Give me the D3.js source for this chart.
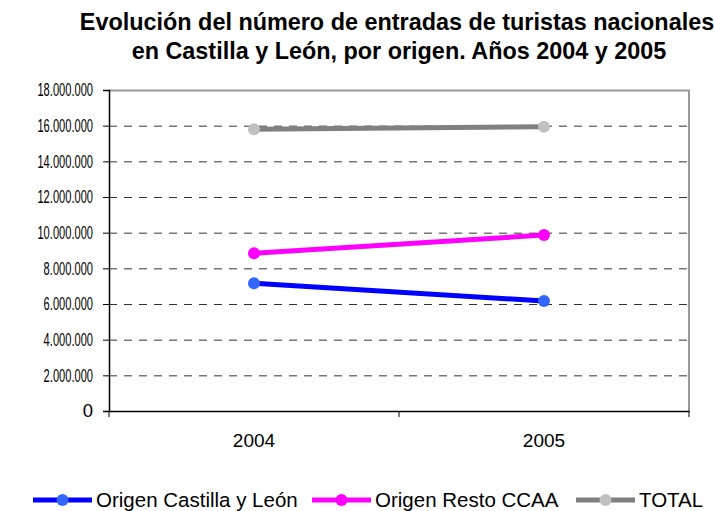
<!DOCTYPE html>
<html>
<head>
<meta charset="utf-8">
<script src="https://cdn.jsdelivr.net/npm/d3@7"></script>
<style>
  body { margin: 0; background: #fff; }
  svg { font-family: Arial, "Liberation Sans", sans-serif; }
  .grid line { stroke: #333; stroke-dasharray: 8,7; }
  .grid .domain { display: none; }
</style>
</head>
<body>
<script>
// data
var years = ["2004", "2005"];
var castillaLeon = [7160000, 6170000];
var restoCCAA = [8840000, 9870000];
var total = [15800000, 15940000];
var yTicks = [0, 2000000, 4000000, 6000000, 8000000, 10000000, 12000000, 14000000, 16000000, 18000000];

var series = [
  {name: "Origen Castilla y León", values: castillaLeon, line: "#0000ff", dot: "#3366ff"},
  {name: "Origen Resto CCAA", values: restoCCAA, line: "#ff00ff", dot: "#ff00ff"},
  {name: "TOTAL", values: total, line: "#808080", dot: "#c0c0c0"}
];

var margin = {top: 90, right: 25, bottom: 100, left: 109},
    width = 714 - margin.left - margin.right,
    height = 511 - margin.top - margin.bottom;

var svg = d3.select("body").append("svg")
    .attr("width", 714)
    .attr("height", 511);

// title
var title = svg.append("text")
    .attr("text-anchor", "middle")
    .attr("font-weight", "bold")
    .attr("font-size", "23.4px")
    .attr("fill", "#000");
title.append("tspan").attr("x", 397).attr("y", 30)
    .text("Evolución del número de entradas de turistas nacionales");
title.append("tspan").attr("x", 399).attr("y", 59)
    .text("en Castilla y León, por origen. Años 2004 y 2005");

var g = svg.append("g")
    .attr("transform", "translate(" + margin.left + "," + margin.top + ")");

// set the ranges
var x = d3.scaleBand().domain(years).range([0, width]);
var y = d3.scaleLinear().domain([0, 18000000]).range([height, 0]);

var fmt = function(d) { return d3.format(",")(d).replace(/,/g, "."); };

// gridlines
g.append("g")
    .attr("class", "grid")
    .call(d3.axisLeft(y).tickValues(yTicks.slice(1, -1)).tickSize(-width).tickFormat(""));

// plot border (top / right)
g.append("path")
    .attr("d", "M0,0.5H" + width + "V" + height)
    .attr("fill", "none")
    .attr("stroke", "#999")
    .attr("stroke-width", 2);

// y axis
var yAxis = g.append("g")
    .call(d3.axisLeft(y).tickValues(yTicks).tickSize(6).tickPadding(10).tickFormat(fmt));
yAxis.select(".domain").attr("stroke", "#000").attr("stroke-width", 1.5);
yAxis.selectAll("text")
    .attr("font-size", "18.5px")
    .attr("fill", "#000")
    .each(function() {
      // the labels in the picture are squeezed sideways
      var w = this.getComputedTextLength();
      if (w > 20) {
        d3.select(this).attr("textLength", w * 0.6).attr("lengthAdjust", "spacingAndGlyphs");
      }
    });

// x axis, ticks on the category boundaries
var xAxis = g.append("g")
    .attr("transform", "translate(0," + height + ")")
    .call(d3.axisBottom(x).tickSize(0).tickPadding(23));
xAxis.select(".domain").attr("stroke", "#000").attr("stroke-width", 1.5);
xAxis.selectAll("text").attr("font-size", "19px").attr("fill", "#000");
xAxis.selectAll(".sep")
    .data([0, 1, 2])
    .enter().append("line")
    .attr("class", "sep")
    .attr("x1", function(d) { return d * x.step(); })
    .attr("x2", function(d) { return d * x.step(); })
    .attr("y1", 0)
    .attr("y2", 6)
    .attr("stroke", "#000");

// lines and markers
var line = d3.line()
    .x(function(d, i) { return x(years[i]) + x.bandwidth() / 2; })
    .y(function(d) { return y(d); });

series.forEach(function(s) {
  g.append("path")
      .datum(s.values)
      .attr("fill", "none")
      .attr("stroke", s.line)
      .attr("stroke-width", 5)
      .attr("d", line);
  g.selectAll(null)
      .data(s.values)
      .enter().append("circle")
      .attr("cx", function(d, i) { return x(years[i]) + x.bandwidth() / 2; })
      .attr("cy", function(d) { return y(d); })
      .attr("r", 6)
      .attr("fill", s.dot);
});

// legend
var legendX = [33, 312, 576];
var legend = svg.selectAll(".legend")
    .data(series)
    .enter().append("g")
    .attr("class", "legend")
    .attr("transform", function(d, i) { return "translate(" + legendX[i] + ",500)"; });
legend.append("line")
    .attr("x1", 0).attr("x2", 59)
    .attr("stroke", function(d) { return d.line; })
    .attr("stroke-width", 5);
legend.append("circle")
    .attr("cx", 29.5)
    .attr("r", 6)
    .attr("fill", function(d) { return d.dot; });
legend.append("text")
    .attr("x", 63)
    .attr("dy", "0.35em")
    .attr("font-size", "20.5px")
    .attr("fill", "#000")
    .text(function(d) { return d.name; });
</script>
</body>
</html>
